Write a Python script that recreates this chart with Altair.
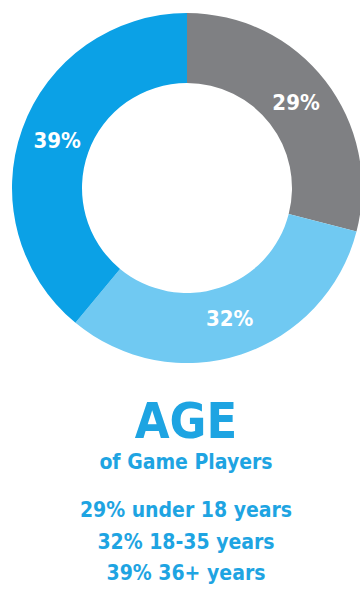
import altair as alt
import pandas as pd

groups = ["under 18 years", "18-35 years", "36+ years"]
shares = [29, 32, 39]
colors = ["#7f8083", "#70c9f2", "#0ba1e6"]
title_text = "AGE"
subtitle_text = "of Game Players"

FONT = "DejaVu Sans Condensed"
TEXT_BLUE = "#1ea4e2"

df = pd.DataFrame({
    "group": groups,
    "share": shares,
    "order": list(range(len(groups))),
    "label": [f"{s}%" for s in shares],
    "line": [f"{s}% {g}" for s, g in zip(shares, groups)],
})

cx, cy = 187, 188

base = alt.Chart(df).encode(
    theta=alt.Theta("share:Q", stack=True),
    order=alt.Order("order:Q"),
    x=alt.value(cx),
    y=alt.value(cy),
)

arcs = base.mark_arc(radius=175, innerRadius=105, stroke=None).encode(
    color=alt.Color("group:N", scale=alt.Scale(domain=groups, range=colors), legend=None)
)

labels = base.mark_text(radius=138, font=FONT, fontWeight="bold", fontSize=22, color="white").encode(
    text="label:N"
)

title = alt.Chart(pd.DataFrame({"t": [title_text]})).mark_text(
    font=FONT, fontWeight="bold", fontSize=50, color=TEXT_BLUE, baseline="alphabetic"
).encode(text="t:N", x=alt.value(186), y=alt.value(438))

subtitle = alt.Chart(pd.DataFrame({"t": [subtitle_text]})).mark_text(
    font=FONT, fontWeight="bold", fontSize=21, color=TEXT_BLUE, baseline="alphabetic"
).encode(text="t:N", x=alt.value(186), y=alt.value(469))

lines = alt.Chart(df).mark_text(
    font=FONT, fontWeight="bold", fontSize=21, color=TEXT_BLUE, baseline="alphabetic"
).encode(
    text="line:N",
    x=alt.value(186),
    y=alt.Y("group:N", scale=alt.Scale(domain=groups, range=[517, 580], padding=0), axis=None),
)

chart = alt.layer(arcs, labels, title, subtitle, lines).properties(
    width=360, height=592, padding=0, autosize=alt.AutoSizeParams(type="none"),
    background="white",
).configure_view(stroke=None)

chart.save("out.html", embed_options={"renderer": "svg", "actions": False})
